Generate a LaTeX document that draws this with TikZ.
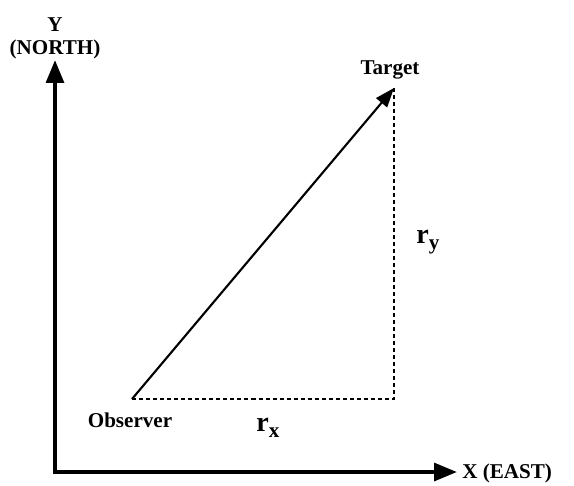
\documentclass[tikz,border=0pt]{standalone}
\usepackage{fontspec}
\setmainfont{Liberation Serif}
\usepackage{tikz}
\usetikzlibrary{arrows.meta,positioning}
\newcommand{\compname}[1]{{\fontsize{16}{16}\selectfont r}\raisebox{-3.5pt}{\fontsize{12}{12}\selectfont #1}}

\begin{document}
\begin{tikzpicture}[x=0.02cm, y=-0.02cm,
  font=\fontsize{12}{13}\selectfont\bfseries,
  axis/.style={line width=2.3pt, -{Triangle[length=13pt, width=10pt]}},
  los/.style={line width=1.2pt, -{Triangle[length=11pt, width=8pt]}},
  comp/.style={line width=1.3pt, dash pattern=on 2.3pt off 1.7pt},
  lbl/.style={inner sep=0pt}]
  \useasboundingbox (0,0) rectangle (574,485);
  % axes
  \coordinate (orig) at (55,472);
  \coordinate (ytip) at (55,60);
  \coordinate (xtip) at (457,472);
  \draw[axis] (orig) -- (ytip);
  \draw[axis] ([xshift=-1.15pt]orig) -- (xtip);
  \node[lbl, align=center] (ylab) at (55,38) {Y\\(NORTH)};
  \node[lbl, anchor=west] (xlab) at (462,473) {X (EAST)};
  % observer and target
  \coordinate (obs) at (132,399);
  \coordinate (tgt) at (394,88);
  \coordinate (crn) at (394,399);
  \draw[comp] (obs) -- (crn) -- (tgt);
  \draw[los] (obs) -- (tgt);
  \node[lbl] (tlab) at (390,70) {Target};
  \node[lbl] (olab) at (130,420) {Observer};
  \node[lbl] (rx) at (268,428) {\compname{x}};
  \node[lbl] (ry) at (428,242) {\compname{y}};
\end{tikzpicture}
\end{document}
